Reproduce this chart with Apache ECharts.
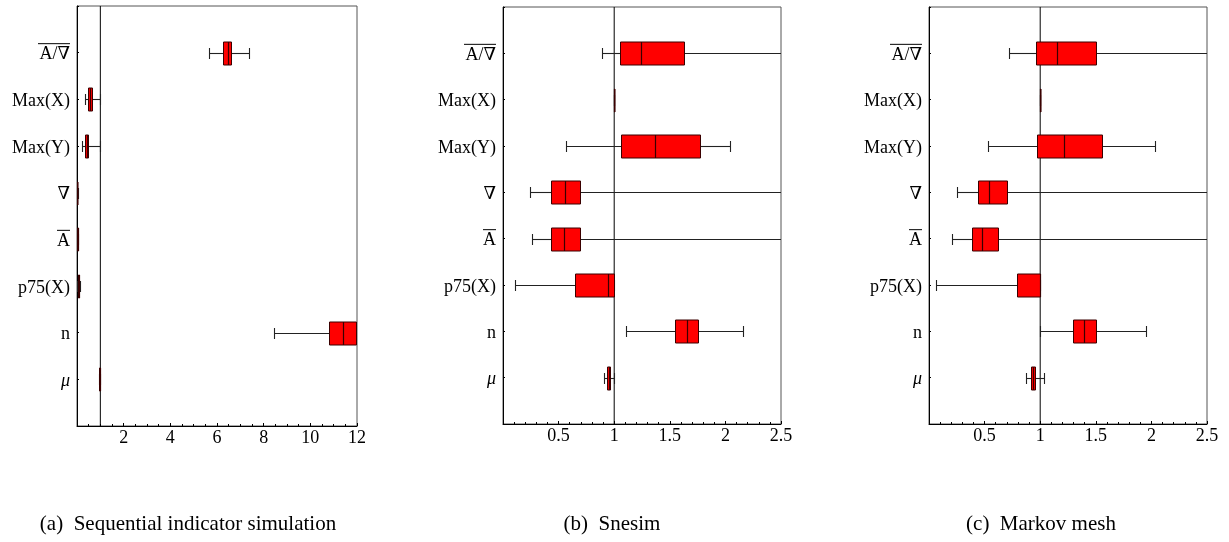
<!DOCTYPE html>
<html>
<head>
<meta charset="utf-8">
<script src="https://cdn.jsdelivr.net/npm/echarts@6/dist/echarts.min.js"></script>
<style>
  html, body { margin: 0; padding: 0; background: #fff; }
  #chart { width: 1229px; height: 542px; }
</style>
</head>
<body>
<div id="chart"></div>
<script>
// Categories, bottom (index 1) to top (index 8)
const categories = ['μ', 'n', 'p75(X)', 'A', '∇', 'Max(Y)', 'Max(X)', 'A/∇'];
const overlined = ['A', 'A/∇'];
const italic = ['μ'];

// Box statistics per category: [min, q1, median, q3, max] (same order as categories)
const sisStats = [
  [0.95, 0.96, 0.97, 0.98, 0.99],
  [8.45, 10.8, 11.41, 11.97, 11.97],
  [0.02, 0.04, 0.07, 0.10, 0.12],
  [0.01, 0.02, 0.03, 0.04, 0.05],
  [0.00, 0.005, 0.01, 0.02, 0.03],
  [0.21, 0.355, 0.42, 0.485, 0.97],
  [0.34, 0.455, 0.55, 0.63, 0.97],
  [5.66, 6.25, 6.45, 6.62, 7.37]
];
const snesimStats = [
  [0.904, 0.937, 0.95, 0.964, 0.994],
  [1.105, 1.551, 1.654, 1.752, 2.154],
  [0.107, 0.643, 0.943, 1.0, 1.0],
  [0.26, 0.436, 0.553, 0.691, 3.0],
  [0.247, 0.436, 0.556, 0.691, 3.0],
  [0.565, 1.057, 1.369, 1.773, 2.037],
  [0.996, 0.998, 1.0, 1.0, 1.002],
  [0.886, 1.048, 1.237, 1.632, 3.0]
];
const markovStats = [
  [0.868, 0.919, 0.935, 0.955, 1.036],
  [1.0, 1.297, 1.396, 1.499, 1.952],
  [0.066, 0.79, 1.0, 1.0, 1.0],
  [0.211, 0.391, 0.481, 0.622, 3.0],
  [0.25, 0.445, 0.544, 0.703, 3.0],
  [0.529, 0.973, 1.213, 1.553, 2.033],
  [0.996, 0.998, 1.0, 1.0, 1.002],
  [0.718, 0.958, 1.147, 1.499, 3.0]
];

const captions = ['(a)  Sequential indicator simulation', '(b)  Snesim', '(c)  Markov mesh'];
const refValue = 1;
const xMax = [12, 2.5, 2.5];
const xInterval = [2, 0.5, 0.5];
const xMinorSplit = [4, 5, 5];

const FONT = '"Liberation Serif", "DejaVu Serif", serif';

const grids = [
  { left: 77, top: 6, width: 280, height: 420 },
  { left: 503, top: 7, width: 278, height: 417 },
  { left: 929, top: 7, width: 278, height: 417 }
];
const captionCenter = [188, 612, 1041];

function yLabel(v) {
  const i = Math.round(v) - 1;
  if (i < 0 || i >= categories.length) return '';
  const c = categories[i];
  let first = '{e|}';
  if (overlined.indexOf(c) >= 0) first = c.length > 1 ? '{ob|}' : '{os|}';
  const style = italic.indexOf(c) >= 0 ? 'it' : 't';
  return first + '\n{' + style + '|' + c + '}';
}

function renderBox(params, api) {
  const y = api.value(0);
  const mn = api.coord([api.value(1), y]);
  const q1 = api.coord([api.value(2), y]);
  const md = api.coord([api.value(3), y]);
  const q3 = api.coord([api.value(4), y]);
  const mx = api.coord([api.value(5), y]);
  const cy = Math.round(mn[1]) + 0.5;
  const bh = 23, ch = 11;
  const r = (x) => Math.round(x) + 0.5;
  const lineStyle = { stroke: '#222', lineWidth: 1.1 };
  const children = [
    { type: 'line', shape: { x1: r(mn[0]), y1: cy, x2: r(q1[0]), y2: cy }, style: lineStyle },
    { type: 'line', shape: { x1: r(q3[0]), y1: cy, x2: r(mx[0]), y2: cy }, style: lineStyle },
    { type: 'line', shape: { x1: r(mn[0]), y1: cy - ch / 2, x2: r(mn[0]), y2: cy + ch / 2 }, style: lineStyle },
    { type: 'line', shape: { x1: r(mx[0]), y1: cy - ch / 2, x2: r(mx[0]), y2: cy + ch / 2 }, style: lineStyle },
    { type: 'rect', shape: { x: r(q1[0]), y: cy - bh / 2, width: Math.max(r(q3[0]) - r(q1[0]), 0.5), height: bh },
      style: { fill: '#ff0000', stroke: '#3a0000', lineWidth: 1 } },
    { type: 'line', shape: { x1: r(md[0]), y1: cy - bh / 2, x2: r(md[0]), y2: cy + bh / 2 },
      style: { stroke: '#3a0000', lineWidth: 1.2 } }
  ];
  return { type: 'group', children: children };
}

const allStats = [sisStats, snesimStats, markovStats];

const option = {
  animation: false,
  backgroundColor: '#fff',
  graphic: captions.map((t, k) => ({
    type: 'text', x: captionCenter[k], y: 524, silent: true,
    style: { text: t, fontFamily: FONT, fontSize: 21, fill: '#000', align: 'center', verticalAlign: 'middle' }
  })),
  grid: grids.map(g => Object.assign({ show: true, borderColor: '#555', borderWidth: 1, containLabel: false }, g)),
  xAxis: grids.map((g, k) => ({
    type: 'value', gridIndex: k, min: 0, max: xMax[k], interval: xInterval[k],
    splitLine: { show: false },
    axisLine: { show: true, lineStyle: { color: '#000', width: 1 } },
    axisTick: { show: true, inside: true, length: 3, lineStyle: { color: '#000' } },
    minorTick: { show: true, splitNumber: xMinorSplit[k], length: 2, lineStyle: { color: '#000' } },
    axisLabel: {
      fontFamily: FONT, fontSize: 18, color: '#000', margin: 3,
      formatter: v => (v === 0 ? '' : String(v)), showMinLabel: true, showMaxLabel: true
    }
  })),
  yAxis: grids.map((g, k) => ({
    type: 'value', gridIndex: k, min: 0, max: categories.length + 1, interval: 1,
    splitLine: { show: false },
    axisLine: { show: true, lineStyle: { color: '#000', width: 1 } },
    axisTick: { show: true, inside: true, length: 2, lineStyle: { color: '#000' } },
    axisLabel: {
      margin: 7, color: '#000', formatter: yLabel,
      rich: {
        e: { width: 0, height: 4, lineHeight: 4 },
        ob: { width: 32, height: 1, lineHeight: 4, backgroundColor: '#000' },
        os: { width: 13, height: 1, lineHeight: 4, backgroundColor: '#000' },
        t: { fontFamily: FONT, fontSize: 18, lineHeight: 18, color: '#000' },
        it: { fontFamily: FONT, fontSize: 18, lineHeight: 18, color: '#000', fontStyle: 'italic' }
      }
    }
  })),
  series: []
};

allStats.forEach((stats, k) => {
  option.series.push({
    type: 'line', xAxisIndex: k, yAxisIndex: k, symbol: 'none', silent: true, z: 1,
    lineStyle: { color: '#000', width: 1 },
    data: [[refValue, 0], [refValue, categories.length + 1]]
  });
  option.series.push({
    type: 'custom', xAxisIndex: k, yAxisIndex: k, clip: true, z: 5,
    renderItem: renderBox,
    encode: { x: [1, 2, 3, 4, 5], y: 0 },
    data: stats.map((s, i) => [i + 1].concat(s))
  });
});

const chart = echarts.init(document.getElementById('chart'), null, { renderer: 'canvas' });
chart.setOption(option);
</script>
</body>
</html>
